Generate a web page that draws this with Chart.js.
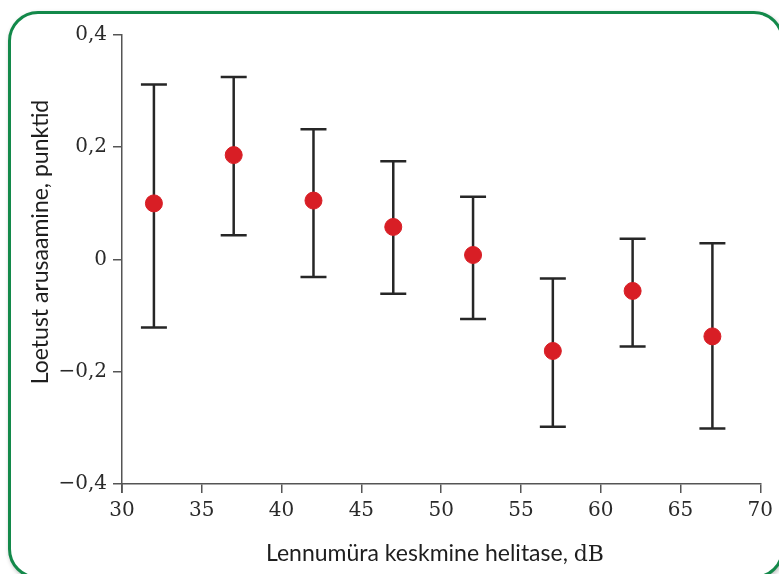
<!DOCTYPE html>
<html>
<head>
<meta charset="utf-8">
<script src="https://cdn.jsdelivr.net/npm/chart.js@4"></script>
<style>
  html, body { margin: 0; padding: 0; background: #ffffff; overflow: hidden; }
  #kast {
    position: absolute; left: 8px; top: 11px; width: 770px; height: 562px;
    border: 3px solid #13894a; border-radius: 30px; background: #ffffff;
    box-shadow: 1px 2px 4px rgba(0,0,0,0.25);
  }
  #wrap { position: absolute; left: 0; top: 0; width: 779px; height: 574px; }
</style>
</head>
<body>
<div id="kast"></div>
<div id="wrap"><canvas id="joonis" width="779" height="574"></canvas></div>
<script>
// Lennumüra helitase (dB) ja loetust arusaamise muutus (punktid)
const helitase = [32, 37, 42, 47, 52, 57, 62, 67];
const keskmine = [0.10, 0.186, 0.105, 0.058, 0.008, -0.163, -0.056, -0.137];
const ylemine = [0.312, 0.325, 0.232, 0.175, 0.112, -0.034, 0.037, 0.029];
const alumine = [-0.121, 0.043, -0.031, -0.061, -0.106, -0.298, -0.155, -0.301];
const xTicks = [30, 35, 40, 45, 50, 55, 60, 65, 70];
const yTicks = [-0.4, -0.2, 0, 0.2, 0.4];

const teljeVarv = "#555555";
const joonVarv = "#262626";
const tekstiVarv = "#2a2a2a";
const serifFont = "'DejaVu Serif', serif";
const sansFont = "Lato, 'Open Sans', sans-serif";

function vormista(v) {
  if (Math.abs(v) < 1e-9) return "0";
  const s = Math.abs(v).toFixed(1).replace(".", ",");
  return v < 0 ? "\u2212" + s : s;
}

// veapiirid (vurrud) punktide taha
const veapiirid = {
  id: "veapiirid",
  beforeDatasetsDraw(chart) {
    const ctx = chart.ctx;
    const xs = chart.scales.x;
    const ys = chart.scales.y;
    ctx.save();
    ctx.strokeStyle = joonVarv;
    ctx.lineWidth = 2.5;
    helitase.forEach((h, i) => {
      const px = xs.getPixelForValue(h);
      const yt = ys.getPixelForValue(ylemine[i]);
      const yb = ys.getPixelForValue(alumine[i]);
      ctx.beginPath();
      ctx.moveTo(px, yt);
      ctx.lineTo(px, yb);
      ctx.moveTo(px - 13, yt);
      ctx.lineTo(px + 13, yt);
      ctx.moveTo(px - 13, yb);
      ctx.lineTo(px + 13, yb);
      ctx.stroke();
    });
    ctx.restore();
  }
};

// telgede pealkirjad: x-telje ühik on serif-kirjas
const pealkirjad = {
  id: "pealkirjad",
  afterDraw(chart) {
    const ctx = chart.ctx;
    ctx.save();
    ctx.fillStyle = "#1e1e1e";
    ctx.textBaseline = "alphabetic";

    const osa1 = "Lennumüra keskmine helitase, ";
    const osa2 = "dB";
    ctx.font = "23px " + sansFont;
    const w1 = ctx.measureText(osa1).width;
    ctx.font = "22px " + serifFont;
    const w2 = ctx.measureText(osa2).width;
    const kesk = 435;
    const x0 = kesk - (w1 + w2) / 2;
    ctx.font = "23px " + sansFont;
    ctx.textAlign = "left";
    ctx.fillText(osa1, x0, 561);
    ctx.font = "22px " + serifFont;
    ctx.fillText(osa2, x0 + w1, 561);

    ctx.translate(48, 242);
    ctx.rotate(-Math.PI / 2);
    ctx.font = "23px " + sansFont;
    ctx.textAlign = "center";
    ctx.fillText("Loetust arusaamine, punktid", 0, 0);
    ctx.restore();

    // y-telg ulatub veidi x-teljest allapoole
    const xs = chart.scales.x;
    const ys = chart.scales.y;
    ctx.save();
    ctx.strokeStyle = teljeVarv;
    ctx.lineWidth = 1.5;
    ctx.beginPath();
    ctx.moveTo(xs.left, ys.bottom);
    ctx.lineTo(xs.left, ys.bottom + 9);
    ctx.stroke();
    ctx.restore();
  }
};

new Chart(document.getElementById("joonis").getContext("2d"), {
  type: "scatter",
  data: {
    datasets: [{
      data: helitase.map((h, i) => ({ x: h, y: keskmine[i] })),
      backgroundColor: "#d81e25",
      borderColor: "#d81e25",
      pointRadius: 8.5,
      pointHoverRadius: 8.5
    }]
  },
  options: {
    responsive: false,
    animation: false,
    layout: { padding: { left: 0, top: 35, right: 16, bottom: 0 } },
    plugins: {
      legend: { display: false },
      tooltip: { enabled: false }
    },
    scales: {
      x: {
        type: "linear",
        min: 30,
        max: 70,
        afterBuildTicks: s => { s.ticks = xTicks.map(v => ({ value: v })); },
        afterFit: s => { s.height = 90; },
        grid: { drawOnChartArea: false, drawTicks: true, tickLength: 9, color: teljeVarv, lineWidth: 1.5 },
        border: { display: true, color: teljeVarv, width: 1.5 },
        ticks: { color: tekstiVarv, font: { family: serifFont, size: 20 }, padding: 6, maxRotation: 0 }
      },
      y: {
        type: "linear",
        min: -0.4,
        max: 0.4,
        afterBuildTicks: s => { s.ticks = yTicks.map(v => ({ value: v })); },
        afterFit: s => { s.width = 122; },
        grid: { drawOnChartArea: false, drawTicks: true, tickLength: 9, color: teljeVarv, lineWidth: 1.5 },
        border: { display: true, color: teljeVarv, width: 1.5 },
        ticks: { color: tekstiVarv, font: { family: serifFont, size: 20 }, padding: 6, callback: v => vormista(v) }
      }
    }
  },
  plugins: [veapiirid, pealkirjad]
});
</script>
</body>
</html>
